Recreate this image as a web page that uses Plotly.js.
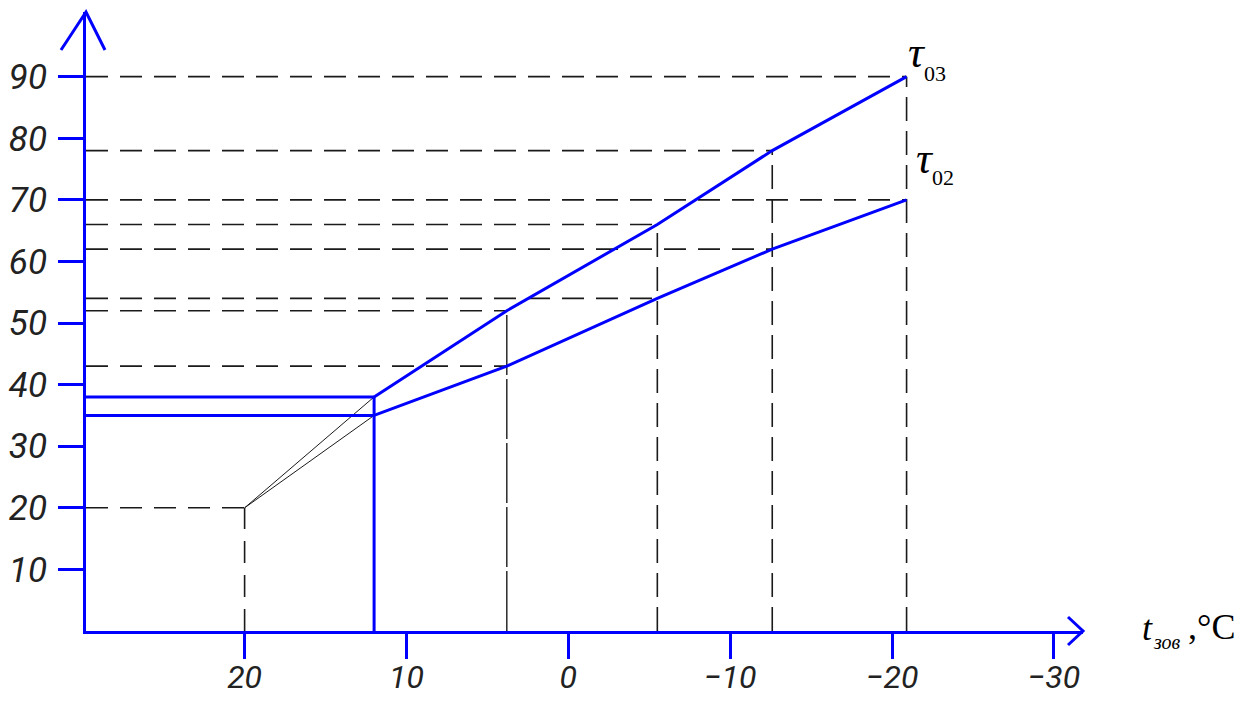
<!DOCTYPE html>
<html>
<head>
<meta charset="utf-8">
<script src="https://cdn.plot.ly/plotly-3.0.1.min.js"></script>
<style>html,body{margin:0;padding:0;background:#fff;}#chart{width:1249px;height:702px;}</style>
</head>
<body>
<div id="chart"></div>
<script>
// ---- data ----
const outdoorT = [12, 3.8, -5.5, -12.6, -20.9];   // t_зов, °C  (break points)
const tau03 = [38, 52, 66, 78, 90];               // supply temperature τ03
const tau02 = [35, 43, 54, 62, 70];               // return temperature τ02
const startPoint = {t: 20, tau: 20};              // start of the thin lines
const yTickVals = [10, 20, 30, 40, 50, 60, 70, 80, 90];
const xTickVals = [20, 10, 0, -10, -20, -30];
const xTickText = ['20', '10', '0', '\u221210', '\u221220', '\u221230'];
const xRange = [29.8, -31.8];
const yRange = [0, 100.5];

// ---- layout geometry ----
const W = 1249, H = 702;
const M = {l: 86, r: 166, t: 12, b: 71};
const PW = W - M.l - M.r, PH = H - M.t - M.b;
const px = x => (x - M.l) / PW;
const py = y => (H - M.b - y) / PH;

const BLUE = '#0000ff';
const DK = '#1a1a1a';
const traces = [];
const axisT = xRange[0];

function seg(xs, ys, color, width, dash) {
  traces.push({x: xs, y: ys, mode: 'lines', type: 'scatter', hoverinfo: 'skip',
    line: {color: color, width: width, dash: dash || 'solid'}, cliponaxis: false});
}

// dashed horizontal projections to the y-axis
for (let i = 1; i < outdoorT.length; i++) {
  seg([axisT, outdoorT[i]], [tau03[i], tau03[i]], DK, 1.6, '22px,12px');
  seg([axisT, outdoorT[i]], [tau02[i], tau02[i]], DK, 1.6, '22px,12px');
}
seg([axisT, startPoint.t], [startPoint.tau, startPoint.tau], DK, 1.6, '22px,12px');
// dashed vertical projections to the x-axis
seg([startPoint.t, startPoint.t], [0, startPoint.tau], DK, 1.6, '22px,12px');
seg([outdoorT[1], outdoorT[1]], [0, tau03[1]], DK, 1.4, '60px,4px');
for (let i = 2; i < outdoorT.length; i++) {
  seg([outdoorT[i], outdoorT[i]], [0, tau03[i]], DK, 1.6, '24px,10px');
}
// thin black lines from the start point
seg([startPoint.t, outdoorT[0]], [startPoint.tau, tau03[0]], DK, 1);
seg([startPoint.t, outdoorT[0]], [startPoint.tau, tau02[0]], DK, 1);
// blue solid: horizontal shelves and vertical at the break point
seg([axisT, outdoorT[0]], [tau03[0], tau03[0]], BLUE, 3);
seg([axisT, outdoorT[0]], [tau02[0], tau02[0]], BLUE, 3);
seg([outdoorT[0], outdoorT[0]], [0, tau03[0]], BLUE, 3);
// temperature curves
seg(outdoorT, tau03, BLUE, 3);
seg(outdoorT, tau02, BLUE, 3);

const tickFontY = {family: 'Roboto, "Liberation Sans", sans-serif',
  size: 35, color: '#222', style: 'italic'};
const tickFontX = {family: 'Roboto, "Liberation Sans", sans-serif',
  size: 32, color: '#222', style: 'italic'};

const layout = {
  width: W, height: H,
  margin: M,
  paper_bgcolor: '#fff', plot_bgcolor: '#fff',
  showlegend: false,
  xaxis: {range: xRange, showgrid: false, zeroline: false, showline: true,
    linecolor: BLUE, linewidth: 3, ticks: 'outside', ticklen: 25, tickwidth: 3,
    tickcolor: BLUE, tickvals: xTickVals, ticktext: xTickText, tickfont: tickFontX,
    ticklabelstandoff: -9, fixedrange: true, automargin: false},
  yaxis: {range: yRange, showgrid: false, zeroline: false, showline: true,
    linecolor: BLUE, linewidth: 3, ticks: 'outside', ticklen: 25, tickwidth: 3,
    tickcolor: BLUE, tickvals: yTickVals, tickfont: tickFontY,
    ticklabelstandoff: 4, fixedrange: true, automargin: false},
  shapes: [
    // y axis arrow head
    {type: 'path', xref: 'paper', yref: 'paper',
     path: `M ${px(61)} ${py(50)} L ${px(86)} ${py(12)} L ${px(105)} ${py(50)}`,
     line: {color: BLUE, width: 3}},
    // x axis arrow head
    {type: 'path', xref: 'paper', yref: 'paper',
     path: `M ${px(1068)} ${py(617)} L ${px(1083)} ${py(631)} L ${px(1068)} ${py(645)}`,
     line: {color: BLUE, width: 3}}
  ],
  annotations: [
    {xref: 'paper', yref: 'paper', x: px(917), y: py(52), text: '<i>τ</i>', showarrow: false,
     xanchor: 'center', yanchor: 'middle',
     font: {family: '"Liberation Serif", serif', size: 44, color: '#000'}},
    {xref: 'paper', yref: 'paper', x: px(935), y: py(73), text: '03', showarrow: false,
     xanchor: 'center', yanchor: 'middle',
     font: {family: '"Liberation Serif", serif', size: 22, color: '#000'}},
    {xref: 'paper', yref: 'paper', x: px(925), y: py(159), text: '<i>τ</i>', showarrow: false,
     xanchor: 'center', yanchor: 'middle',
     font: {family: '"Liberation Serif", serif', size: 44, color: '#000'}},
    {xref: 'paper', yref: 'paper', x: px(943), y: py(177), text: '02', showarrow: false,
     xanchor: 'center', yanchor: 'middle',
     font: {family: '"Liberation Serif", serif', size: 22, color: '#000'}},
    {xref: 'paper', yref: 'paper', x: px(1147), y: py(628), text: '<i>t</i>', showarrow: false,
     xanchor: 'center', yanchor: 'middle',
     font: {family: '"Liberation Serif", serif', size: 36, color: '#000'}},
    {xref: 'paper', yref: 'paper', x: px(1167), y: py(642), text: '<i>зов</i>', showarrow: false,
     xanchor: 'center', yanchor: 'middle',
     font: {family: '"Liberation Serif", serif', size: 20, color: '#000'}},
    {xref: 'paper', yref: 'paper', x: px(1211), y: py(627), text: ',°C', showarrow: false,
     xanchor: 'center', yanchor: 'middle',
     font: {family: '"Liberation Serif", serif', size: 36, color: '#000'}}
  ]
};

Plotly.newPlot('chart', traces, layout, {displayModeBar: false, staticPlot: true});
</script>
</body>
</html>
